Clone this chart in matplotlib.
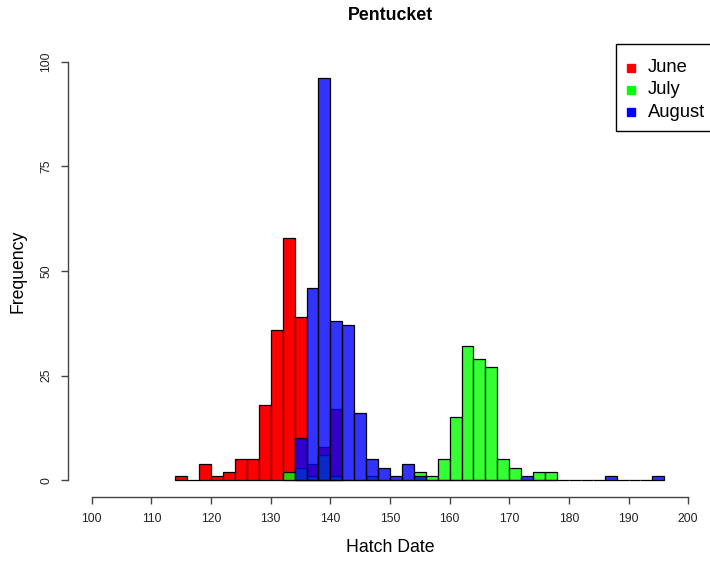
import numpy as np
import matplotlib
matplotlib.use("Agg")
import matplotlib.pyplot as plt
from matplotlib.lines import Line2D
from matplotlib.patches import Rectangle

plt.rcParams['font.family'] = ['Liberation Sans', 'DejaVu Sans']

bin_width = 2
# Left edges of the 2-day bins and counts per series
june_start = 114
june_counts = [1, 0, 4, 1, 2, 5, 5, 18, 36, 58, 39, 4, 8, 17]
july_start = 132
july_counts = [2, 3, 1, 6, 1, 0, 0, 1, 0, 0, 0, 2, 1, 5, 15, 32, 29, 27, 5, 3, 0, 2, 2]
august_start = 134
august_counts = [10, 46, 96, 38, 37, 16, 5, 3, 1, 4, 1, 0, 0, 0, 0, 0, 0, 0, 0, 1,
                 0, 0, 0, 0, 0, 0, 1, 0, 0, 0, 1]

series_names = ["June", "July", "August"]
series_fill = [(1, 0, 0, 1.0), (0, 1, 0, 0.8), (0, 0, 1, 0.8)]
legend_colors = ["#FF0000", "#00FF00", "#0000FF"]

x_ticks = list(range(100, 201, 10))
y_ticks = [0, 25, 50, 75, 100]

W, H = 710, 561
fig = plt.figure(figsize=(W / 100, H / 100), dpi=100)
ax = fig.add_axes([68 / W, 64 / H, 644 / W, 452 / H])

for start, counts, fc in zip([june_start, july_start, august_start],
                             [june_counts, july_counts, august_counts],
                             series_fill):
    counts = np.asarray(counts, dtype=float)
    edges = start + bin_width * np.arange(len(counts) + 1)
    ax.hist(edges[:-1], bins=edges, weights=counts, facecolor=fc,
            edgecolor='black', linewidth=0.9, histtype='bar')

ax.set_xlim(96, 204)
ax.set_ylim(-4, 104)
for s in ['top', 'right']:
    ax.spines[s].set_visible(False)
ax.spines['left'].set_bounds(0, 100)
ax.spines['bottom'].set_bounds(100, 200)
for s in ['left', 'bottom']:
    ax.spines[s].set_color('#444444')
    ax.spines[s].set_linewidth(1.0)

ax.set_xticks(x_ticks)
ax.set_yticks(y_ticks)
ax.set_yticklabels([str(v) for v in y_ticks], rotation=90, va='center')
ax.tick_params(axis='both', direction='out', length=5, width=1.0,
               color='#444444', labelsize=8.8, labelcolor='#222222', pad=6.5)

fig.text(390 / W, 1 - 16 / H, "Pentucket", ha='center', va='center',
         fontsize=12.8, fontweight='bold')
fig.text(390 / W, 1 - 547 / H, "Hatch Date", ha='center', va='center',
         fontsize=12.7)
fig.text(18 / W, 1 - 271 / H, "Frequency", ha='center', va='center',
         fontsize=12.7, rotation=90)

# Legend drawn in figure pixel layout (R-style box in the top-right corner)
box_left, box_top, box_bottom = 616, 44, 131
fig.patches.append(Rectangle((box_left / W, 1 - box_bottom / H),
                             (W + 5 - box_left) / W, (box_bottom - box_top) / H,
                             transform=fig.transFigure, facecolor='white',
                             edgecolor='black', linewidth=1.0, zorder=5))
row_y = [68, 90, 112]
for name, col, yy in zip(series_names, legend_colors, row_y):
    fig.add_artist(Line2D([631 / W], [1 - yy / H], marker='s', markersize=6,
                          linestyle='none', markerfacecolor=col,
                          markeredgecolor=col, transform=fig.transFigure,
                          zorder=6))
    fig.text(648 / W, 1 - yy / H, name, ha='left', va='center',
             fontsize=13.2, zorder=6)

fig.savefig("out.png", dpi=100)
